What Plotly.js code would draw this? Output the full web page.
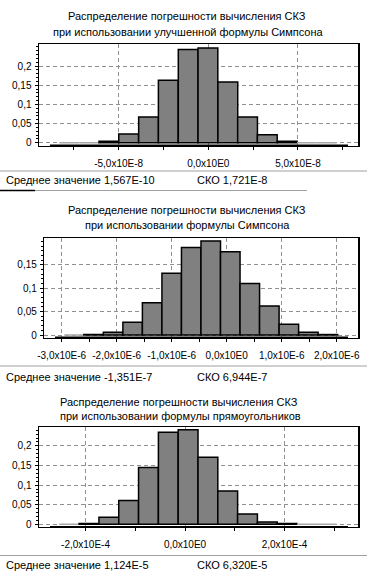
<!DOCTYPE html>
<html><head><meta charset="utf-8">
<script src="https://cdn.plot.ly/plotly-3.0.1.min.js"></script>
<style>html,body{margin:0;padding:0;background:#fff}#chart{width:367px;height:573px}</style>
</head><body><div id="chart"></div>
<script>
const W = 367, H = 573;

// ---- Panel 1: improved Simpson formula ----
const title1 = ["Распределение погрешности вычисления СКЗ", "при использовании улучшенной формулы Симпсона"];
const centers1 = [-7.75e-8,-6.64e-8,-5.54e-8,-4.44e-8,-3.33e-8,-2.23e-8,-1.12e-8,-0.02e-8,1.09e-8,2.19e-8,3.29e-8,4.40e-8,5.50e-8,6.61e-8];
const freq1 = [0,0,0.004,0.023,0.067,0.163,0.243,0.247,0.158,0.067,0.021,0.004,0,0];
const binWidth1 = 1.104e-8;
const xTickVals1 = [-5e-8, 0, 5e-8];
const xTickText1 = ["-5,0x10E-8", "0,0x10E0", "5,0x10E-8"];
const xMinorStep1 = 2.5e-8;
const yTickVals1 = [0, 0.05, 0.1, 0.15, 0.2];
const yTickText1 = ["0", "0,05", "0,1", "0,15", "0,2"];
const stats1 = ["Среднее значение 1,567E-10", "СКО 1,721E-8"];

// ---- Panel 2: Simpson formula ----
const title2 = ["Распределение погрешности вычисления СКЗ", "при использовании формулы Симпсона"];
const centers2 = [-2.775e-6,-2.420e-6,-2.065e-6,-1.710e-6,-1.355e-6,-1.000e-6,-0.645e-6,-0.290e-6,0.065e-6,0.420e-6,0.775e-6,1.130e-6,1.485e-6,1.840e-6];
const freq2 = [0,0.001,0.006,0.027,0.069,0.132,0.187,0.201,0.178,0.110,0.062,0.023,0.006,0.001];
const binWidth2 = 0.355e-6;
const xTickVals2 = [-3e-6, -2e-6, -1e-6, 0, 1e-6, 2e-6];
const xTickText2 = ["-3,0x10E-6", "-2,0x10E-6", "-1,0x10E-6", "0,0x10E0", "1,0x10E-6", "2,0x10E-6"];
const xMinorStep2 = 0.5e-6;
const yTickVals2 = [0, 0.05, 0.1, 0.15];
const yTickText2 = ["0", "0,05", "0,1", "0,15"];
const stats2 = ["Среднее значение -1,351E-7", "СКО 6,944E-7"];

// ---- Panel 3: rectangle formula ----
const title3 = ["Распределение погрешности вычисления СКЗ", "при использовании формулы прямоугольников"];
const centers3 = [-2.327e-4,-1.929e-4,-1.531e-4,-1.133e-4,-0.735e-4,-0.336e-4,0.062e-4,0.460e-4,0.858e-4,1.256e-4,1.654e-4,2.052e-4,2.451e-4,2.849e-4];
const freq3 = [0,0.002,0.018,0.061,0.145,0.235,0.241,0.171,0.085,0.026,0.006,0.002,0,0];
const binWidth3 = 3.982e-5;
const xTickVals3 = [-2e-4, 0, 2e-4];
const xTickText3 = ["-2,0x10E-4", "0,0x10E0", "2,0x10E-4"];
const xMinorStep3 = 1e-4;
const yTickVals3 = [0, 0.05, 0.1, 0.15, 0.2];
const yTickText3 = ["0", "0,05", "0,1", "0,15", "0,2"];
const stats3 = ["Среднее значение 1,124E-5", "СКО 6,320E-5"];

const FONT = "Liberation Sans, Arial, sans-serif";
const px = p => p / W;
const py = p => 1 - p / H;

function barTrace(c, f, w, xa, ya) {
  return {
    type: 'bar', x: c, y: f, width: w, xaxis: xa, yaxis: ya,
    marker: {
      color: '#808080',
      line: { color: f.map(v => v === 0 ? '#a8a8a8' : '#000000'), width: 1.5 }
    },
    hoverinfo: 'skip', showlegend: false
  };
}

function xAxis(range, dom, tv, tt, minorStep, anchor) {
  return {
    domain: dom, range: range, anchor: anchor,
    tickmode: 'array', tickvals: tv, ticktext: tt,
    ticks: 'outside', ticklen: 3, tickcolor: '#000', ticklabelstandoff: 5,
    minor: { ticks: 'outside', ticklen: 3, tickcolor: '#000', dtick: minorStep, tick0: 0, showgrid: false },
    showgrid: true, gridcolor: '#909090', griddash: '4px,3px', gridwidth: 1,
    zeroline: false, showline: true, linecolor: '#000', linewidth: 1, mirror: true,
    tickfont: { family: FONT, size: 10, color: '#000' }, fixedrange: true
  };
}
function yAxis(range, dom, tv, tt, anchor) {
  return {
    domain: dom, range: range, anchor: anchor,
    tickmode: 'array', tickvals: tv, ticktext: tt,
    ticks: 'outside', ticklen: 3, tickcolor: '#000', ticklabelstandoff: 1,
    minor: { ticks: 'outside', ticklen: 2, tickcolor: '#000', dtick: 0.01, tick0: 0, showgrid: false },
    showgrid: true, gridcolor: '#909090', griddash: '4px,3px', gridwidth: 1,
    zeroline: false, showline: true, linecolor: '#000', linewidth: 1.5, mirror: true,
    tickfont: { family: FONT, size: 10, color: '#000' }, fixedrange: true
  };
}

const data = [
  barTrace(centers1, freq1, binWidth1, 'x', 'y'),
  barTrace(centers2, freq2, binWidth2, 'x2', 'y2'),
  barTrace(centers3, freq3, binWidth3, 'x3', 'y3')
];

function ann(text, x, y, xanchor, size) {
  return { text: text, x: x, y: y, xref: 'paper', yref: 'paper', xanchor: xanchor, yanchor: 'middle',
           showarrow: false, font: { family: FONT, size: size, color: '#000' } };
}

const annotations = [
  ann(title1[0], px(187), py(16), 'center', 11),
  ann(title1[1], px(188), py(32), 'center', 11),
  ann(stats1[0], px(4), py(180), 'left', 11),
  ann(stats1[1], px(195), py(180), 'left', 11),
  ann(title2[0], px(187), py(210), 'center', 11),
  ann(title2[1], px(187), py(225), 'center', 11),
  ann(stats2[0], px(4), py(377), 'left', 11),
  ann(stats2[1], px(195), py(377), 'left', 11),
  ann(title3[0], px(179), py(401.5), 'center', 11),
  ann(title3[1], px(180), py(415.5), 'center', 11),
  ann(stats3[0], px(4), py(564.5), 'left', 11),
  ann(stats3[1], px(195), py(564.5), 'left', 11)
];

function hline(x0, x1, y, color, width) {
  return { type: 'line', xref: 'paper', yref: 'paper', x0: px(x0), x1: px(x1), y0: py(y), y1: py(y),
           line: { color: color, width: width } };
}
const shapes = [
  hline(50, 348, 145.5, '#000', 2),
  hline(0, 367, 171, '#a0a0a0', 1),
  hline(0, 35, 190.5, '#000', 1.5),
  hline(35, 307, 190.5, '#a0a0a0', 1),
  hline(55, 348, 337.5, '#000', 2),
  hline(0, 367, 366, '#a0a0a0', 1),
  hline(50, 348, 527, '#000', 2),
  hline(0, 367, 555.5, '#a0a0a0', 1)
];

const layout = {
  width: W, height: H, margin: { l: 0, r: 0, t: 0, b: 0 },
  paper_bgcolor: '#fff', plot_bgcolor: '#fff', showlegend: false, bargap: 0,
  xaxis: xAxis([-9.44e-8, 8.35e-8], [px(39), px(358)], xTickVals1, xTickText1, xMinorStep1, 'y'),
  yaxis: yAxis([-0.0078, 0.2574], [py(145.7), py(44)], yTickVals1, yTickText1, 'x'),
  xaxis2: xAxis([-3.316e-6, 2.387e-6], [px(44.3), px(358)], xTickVals2, xTickText2, xMinorStep2, 'y2'),
  yaxis2: yAxis([-0.0064, 0.208], [py(338), py(237.7)], yTickVals2, yTickText2, 'x2'),
  xaxis3: xAxis([-2.935e-4, 3.477e-4], [px(39), px(358)], xTickVals3, xTickText3, xMinorStep3, 'y3'),
  yaxis3: yAxis([-0.0077, 0.249], [py(527.3), py(426.7)], yTickVals3, yTickText3, 'x3'),
  annotations: annotations, shapes: shapes
};

Plotly.newPlot('chart', data, layout, { staticPlot: true, displayModeBar: false });
</script>
</body></html>
